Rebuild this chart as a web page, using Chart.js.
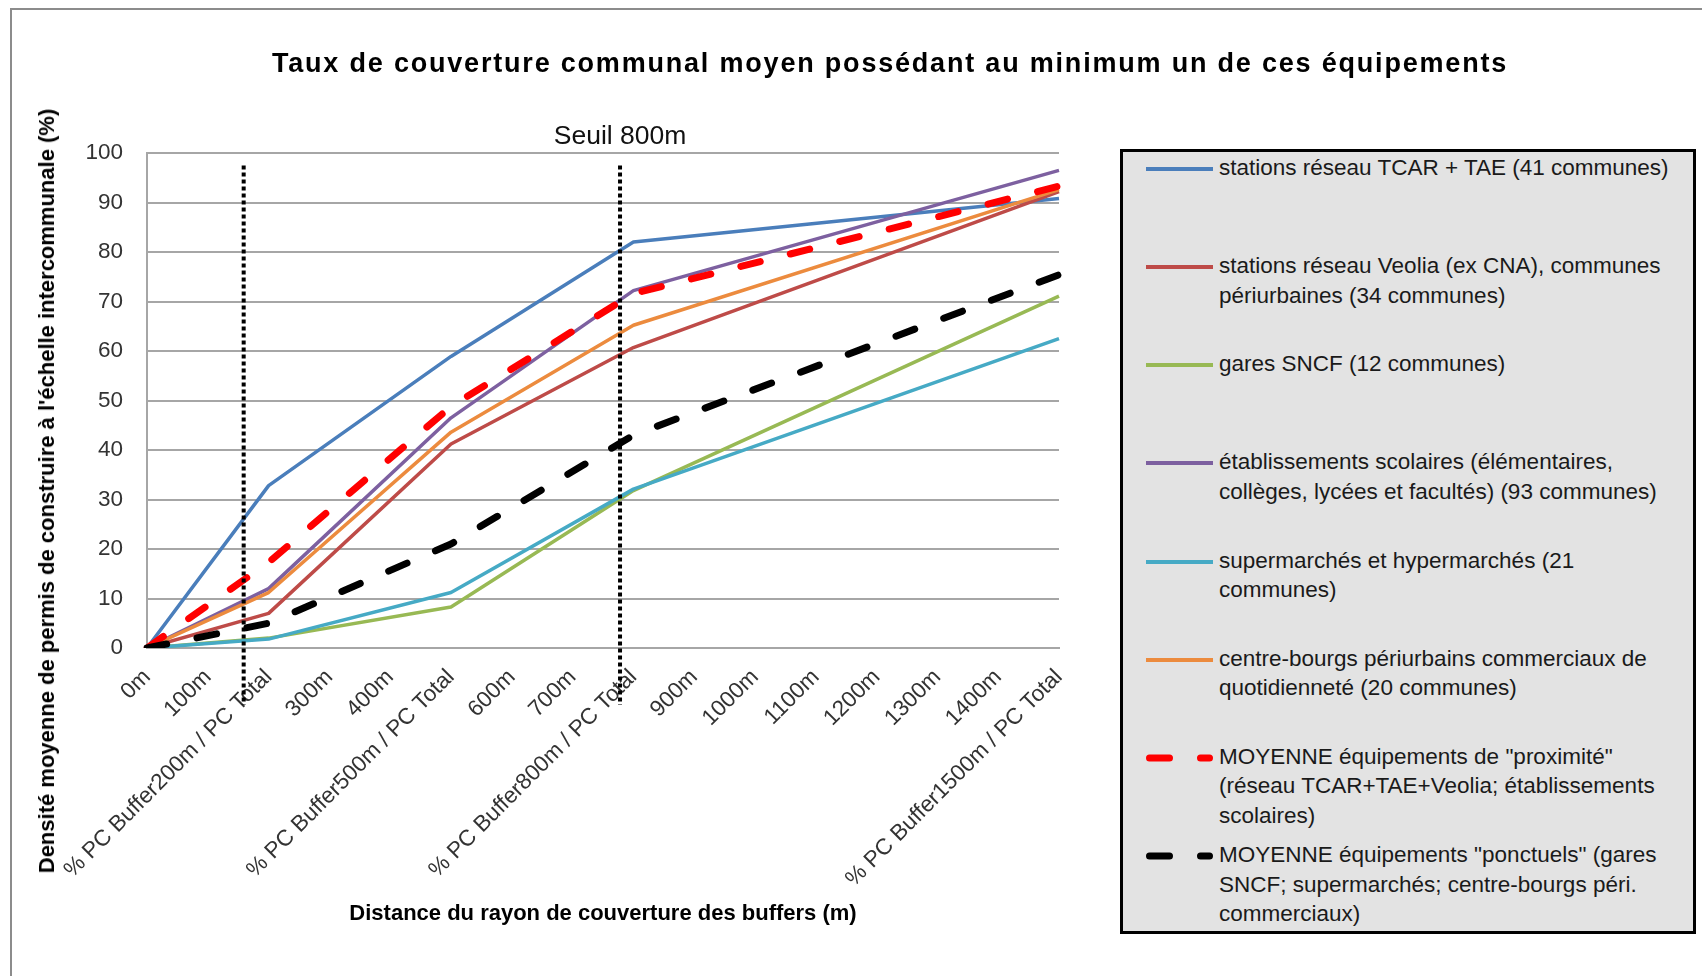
<!DOCTYPE html>
<html lang="fr">
<head>
<meta charset="utf-8">
<title>Taux de couverture communal moyen</title>
<script src="https://cdn.jsdelivr.net/npm/chart.js@4.4.1/dist/chart.umd.min.js"></script>
<style>
  html, body { margin: 0; padding: 0; background: #fff; overflow: hidden; }
  #wrap { position: relative; width: 1702px; height: 976px; font-family: "Liberation Sans", Arial, sans-serif; }
  #frame { position: absolute; left: 10px; top: 8px; width: 1800px; height: 1100px;
           border-left: 2px solid #8c8c8c; border-top: 2px solid #8c8c8c; }
  #chart { position: absolute; left: 0; top: 0; }
  #title { position: absolute; left: 890px; top: 63px; transform: translate(-50%, -50%);
           white-space: nowrap; font-weight: bold; font-size: 27px; letter-spacing: 1.8px; color: #000; }
  #yTitle { position: absolute; left: 47px; top: 491px; transform: translate(-50%, -50%) rotate(-90deg);
            white-space: nowrap; font-weight: bold; font-size: 22px; color: #000; }
  #legend { position: absolute; left: 1120px; top: 149px; width: 570px; height: 779px;
            border: 3px solid #000; background: #e3e3e3; }
  .entry { position: absolute; left: 0; right: 0; }
  .entry svg { position: absolute; left: 23px; top: 1px; }
  .entry .txt { position: absolute; left: 96px; top: 0; font-size: 22.5px; line-height: 29.5px;
                color: #1a1a1a; white-space: nowrap; }
</style>
</head>
<body>
<div id="wrap">
  <div id="frame"></div>
  <canvas id="chart" width="1702" height="976"></canvas>
  <div id="title">Taux de couverture communal moyen possédant au minimum un de ces équipements</div>
  <div id="yTitle">Densité moyenne de permis de construire à l'échelle intercommunale (%)</div>
  <div id="legend"></div>
</div>
<script>
// categories: distances des buffers
const distances = [
  "0m", "100m", "% PC Buffer200m / PC Total", "300m", "400m", "% PC Buffer500m / PC Total",
  "600m", "700m", "% PC Buffer800m / PC Total", "900m", "1000m", "1100m", "1200m", "1300m",
  "1400m", "% PC Buffer1500m / PC Total"
];
// index of the categories where a value exists (0m, 200m, 500m, 800m, 1500m)
const bufferIndex = [0, 2, 5, 8, 15];

// valeurs (%) aux buffers 0 / 200 / 500 / 800 / 1500 m
const tcarTae = [0, 32.8, 58.9, 82.0, 90.8];
const veolia = [0, 7.0, 41.2, 60.7, 92.2];
const garesSncf = [0, 2.0, 8.3, 31.8, 71.1];
const scolaires = [0, 12.0, 46.5, 72.2, 96.5];
const supermarches = [0, 1.8, 11.2, 32.1, 62.5];
const centreBourgs = [0, 11.2, 43.6, 65.2, 92.6];
const moyProximite = [0, 17.3, 48.8, 71.6, 93.3];
const moyPonctuels = [0, 5.0, 21.0, 43.0, 75.4];

// legend text, one entry per line as wrapped in the legend box
const seriesNames = [
  ["stations réseau TCAR + TAE (41 communes)"],
  ["stations réseau Veolia (ex CNA), communes", "périurbaines (34 communes)"],
  ["gares SNCF (12 communes)"],
  ["établissements scolaires (élémentaires,", "collèges, lycées et facultés) (93 communes)"],
  ["supermarchés et hypermarchés (21", "communes)"],
  ["centre-bourgs périurbains commerciaux de", "quotidienneté (20 communes)"],
  ["MOYENNE équipements de \"proximité\"", "(réseau TCAR+TAE+Veolia; établissements", "scolaires)"],
  ["MOYENNE équipements \"ponctuels\" (gares", "SNCF; supermarchés; centre-bourgs péri.", "commerciaux)"]
];

// threshold lines, in category units
const seuilPositions = [1.59, 7.78];
const seuilLabel = "Seuil 800m";

const FONT = '"Liberation Sans", Arial, sans-serif';
Chart.defaults.font.family = FONT;

const series = [
  { values: tcarTae, color: "#4a7ebb" },
  { values: veolia, color: "#be4b48" },
  { values: garesSncf, color: "#98b954" },
  { values: scolaires, color: "#7d60a0" },
  { values: supermarches, color: "#46aac5" },
  { values: centreBourgs, color: "#ec8b3e" },
  { values: moyProximite, color: "#ff0000", dash: [20, 31] },
  { values: moyPonctuels, color: "#000000", dash: [20, 31] }
];

function spread(values) {
  return distances.map((_, i) => {
    const k = bufferIndex.indexOf(i);
    return k < 0 ? null : values[k];
  });
}

const datasets = series.map((s, i) => ({
  label: seriesNames[i].join(" "),
  data: spread(s.values),
  borderColor: s.color,
  backgroundColor: s.color,
  borderWidth: s.dash ? 7 : 3.5,
  borderDash: s.dash || [],
  borderCapStyle: s.dash ? "round" : "butt",
  borderJoinStyle: "round",
  fill: false,
  order: series.length - i
}));

const seuilPlugin = {
  id: "seuils",
  afterDatasetsDraw(chart) {
    const { ctx, chartArea, scales: { x, y } } = chart;
    ctx.save();
    ctx.strokeStyle = "#000";
    ctx.lineWidth = 4;
    ctx.setLineDash([4, 3]);
    seuilPositions.forEach((pos) => {
      const px = x.getPixelForValue(pos);
      ctx.beginPath();
      ctx.moveTo(px, y.getPixelForValue(97.5));
      ctx.lineTo(px, chartArea.bottom + 57);
      ctx.stroke();
    });
    ctx.setLineDash([]);
    ctx.fillStyle = "#111";
    ctx.font = "26.5px " + FONT;
    ctx.textAlign = "center";
    ctx.textBaseline = "middle";
    ctx.fillText(seuilLabel, x.getPixelForValue(seuilPositions[1]), chartArea.top - 16);
    ctx.restore();
  }
};

const chart = new Chart(document.getElementById("chart"), {
  type: "line",
  data: { labels: distances, datasets },
  options: {
    responsive: false,
    animation: false,
    devicePixelRatio: 1,
    spanGaps: true,
    layout: { padding: { left: 0, top: 153, right: 643, bottom: 0 } },
    elements: { point: { radius: 0, hoverRadius: 0 }, line: { tension: 0 } },
    plugins: { legend: { display: false }, tooltip: { enabled: false }, title: { display: false } },
    scales: {
      x: {
        grid: { display: false, drawTicks: false },
        border: { color: "#a6a6a6", width: 2 },
        ticks: {
          autoSkip: false, minRotation: 45, maxRotation: 45, padding: 16,
          color: "#333", font: { size: 22.5 }
        },
        title: {
          display: true,
          text: "Distance du rayon de couverture des buffers (m)",
          color: "#000",
          font: { size: 22, weight: "bold" },
          padding: { top: 0, bottom: 49 }
        },
        afterFit(scale) { scale.height = 328; }
      },
      y: {
        min: 0,
        max: 100,
        ticks: { stepSize: 10, padding: 24, color: "#333", font: { size: 22.5 } },
        grid: { color: "#a6a6a6", lineWidth: 2, drawTicks: false },
        border: { color: "#a6a6a6", width: 2 },
        afterFit(scale) { scale.width = 147; }
      }
    }
  },
  plugins: [seuilPlugin]
});

// legend box, built from the chart datasets
const legendEl = document.getElementById("legend");
const entryStep = 98.15;
chart.data.datasets.forEach((ds, i) => {
  const entry = document.createElement("div");
  entry.className = "entry";
  entry.style.top = (1 + i * entryStep) + "px";
  const dashed = ds.borderDash.length > 0;
  const w = dashed ? 7 : 4;
  const svg = dashed
    ? `<svg width="67" height="30"><line x1="3.5" y1="15" x2="63.5" y2="15" stroke="${ds.borderColor}" stroke-width="${w}" stroke-linecap="round" stroke-dasharray="${ds.borderDash.join(" ")}"/></svg>`
    : `<svg width="67" height="30"><line x1="0" y1="15" x2="67" y2="15" stroke="${ds.borderColor}" stroke-width="${w}"/></svg>`;
  entry.innerHTML = svg + `<div class="txt">${seriesNames[i].join("<br>")}</div>`;
  legendEl.appendChild(entry);
});
</script>
</body>
</html>
